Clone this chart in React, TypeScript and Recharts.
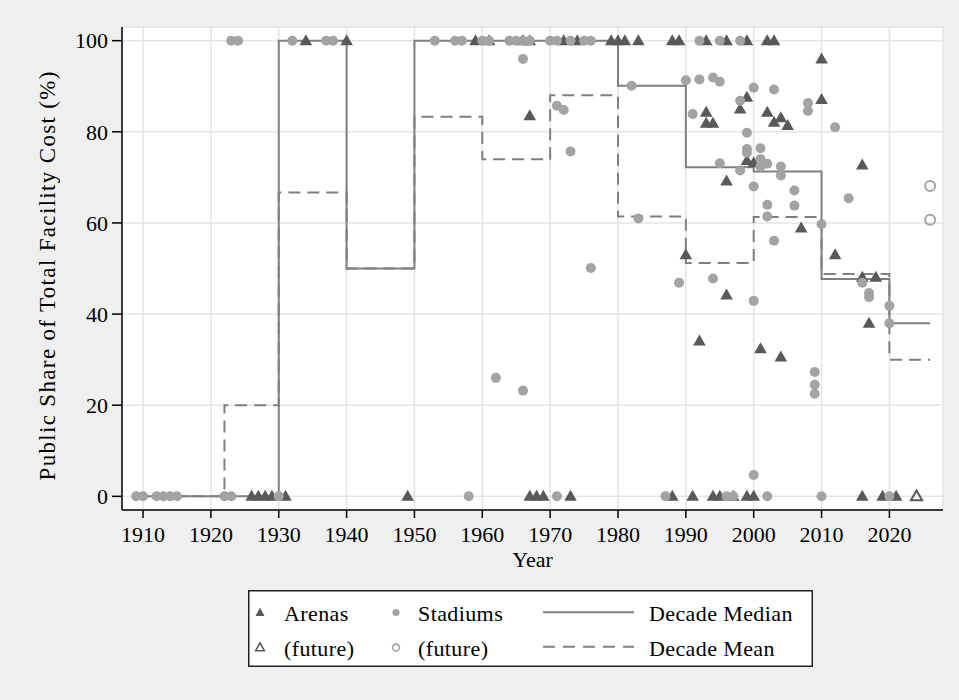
import { ComposedChart, Line, Scatter, XAxis, YAxis, CartesianGrid, Legend } from 'recharts';

const FONT = '"Liberation Serif", "Times New Roman", serif';
const BG = '#efefef';
const ARENA = '#595959';
const STADIUM = '#a3a3a3';
const STEP = '#7f7f7f';
const GRID = '#e4e4e4';

// axis ticks
const yearTicks = [1910, 1920, 1930, 1940, 1950, 1960, 1970, 1980, 1990, 2000, 2010, 2020];
const shareTicks = [0, 20, 40, 60, 80, 100];

// arenas (opening year, public share %)
const arenaYears = [
  1926, 1927, 1928, 1929, 1931, 1934, 1940, 1949, 1959, 1961,
  1966, 1967, 1967, 1967, 1968, 1969, 1972, 1973, 1974, 1979,
  1980, 1981, 1983, 1988, 1988, 1989, 1990, 1991, 1992, 1993,
  1993, 1993, 1994, 1994, 1995, 1996, 1996, 1996, 1997, 1998,
  1999, 1999, 1999, 1999, 2000, 2000, 2001, 2002, 2002, 2003,
  2003, 2004, 2004, 2005, 2007, 2010, 2010, 2012, 2016, 2016,
  2016, 2017, 2018, 2019, 2021,
];
const arenaShares = [
  0, 0, 0, 0, 0, 100, 100, 0, 100, 100,
  100, 100, 83.5, 0, 0, 0, 100, 0, 100, 100,
  100, 100, 100, 100, 0, 100, 53, 0, 34.1, 100,
  84.3, 81.9, 81.9, 0, 0, 100, 69.2, 44.2, 0, 85,
  100, 87.6, 73.7, 0, 73.2, 0, 32.4, 100, 84.3, 100,
  82.1, 83.1, 30.6, 81.4, 58.9, 96, 87.1, 53, 72.7, 48.1,
  0, 38, 48.1, 0, 0,
];

// stadiums
const stadiumYears = [
  1909, 1910, 1912, 1913, 1914, 1915, 1922, 1923, 1923, 1924,
  1930, 1932, 1937, 1938, 1953, 1956, 1957, 1958, 1960, 1961,
  1962, 1964, 1965, 1966, 1966, 1966, 1967, 1970, 1971, 1971,
  1971, 1972, 1973, 1973, 1975, 1976, 1976, 1982, 1983, 1987,
  1989, 1990, 1991, 1992, 1992, 1994, 1994, 1995, 1995, 1995,
  1996, 1997, 1998, 1998, 1998, 1999, 1999, 1999, 2000, 2000,
  2000, 2000, 2001, 2001, 2001, 2002, 2002, 2002, 2002, 2003,
  2003, 2004, 2004, 2006, 2006, 2008, 2008, 2009, 2009, 2009,
  2010, 2010, 2012, 2014, 2016, 2017, 2017, 2020, 2020, 2020,
];
const stadiumShares = [
  0, 0, 0, 0, 0, 0, 0, 0, 100, 100,
  0, 100, 100, 100, 100, 100, 100, 0, 100, 100,
  26, 100, 100, 100, 96, 23.2, 100, 100, 100, 85.7,
  0, 84.8, 100, 75.7, 100, 100, 50.1, 90.1, 61, 0,
  46.9, 91.3, 83.9, 100, 91.5, 91.9, 47.8, 100, 91, 73.1,
  0, 0, 100, 86.8, 71.5, 79.8, 76.2, 75.4, 89.7, 68,
  42.9, 4.7, 76.4, 74, 72.4, 73, 64, 61.4, 0, 89.3,
  56.1, 72.4, 70.4, 67.1, 63.8, 86.3, 84.6, 27.3, 24.5, 22.5,
  59.7, 0, 81, 65.4, 46.9, 44.6, 43.7, 41.8, 38, 0,
];

// planned facilities
const futureArenaYears = [2024];
const futureArenaShares = [0];
const futureStadiumYears = [2026, 2026];
const futureStadiumShares = [68.1, 60.7];

// decade summaries, drawn as steps
const stepYears = [1909, 1922, 1930, 1940, 1950, 1960, 1970, 1980, 1990, 2000, 2010, 2020, 2026];
const decadeMedian = [0, 0, 100, 50, 100, 100, 100, 90.1, 72.2, 71.3, 47.7, 38, 38];
const decadeMean = [0, 20, 66.7, 50, 83.3, 74, 88, 61.4, 51.2, 61.3, 48.8, 30, 30];

const toPoints = (years: number[], shares: number[]) =>
  years.map((year, i) => ({ year, share: shares[i] }));

const arenaPoints = toPoints(arenaYears, arenaShares);
const stadiumPoints = toPoints(stadiumYears, stadiumShares);
const futureArenaPoints = toPoints(futureArenaYears, futureArenaShares);
const futureStadiumPoints = toPoints(futureStadiumYears, futureStadiumShares);
const medianPoints = toPoints(stepYears, decadeMedian);
const meanPoints = toPoints(stepYears, decadeMean);

const triPath = (cx: number, cy: number, w: number, up: number, down: number) =>
  `M${cx},${cy - up}L${cx + w},${cy + down}L${cx - w},${cy + down}Z`;

const ArenaDot = (p: any) =>
  p.cx == null ? null : <path d={triPath(p.cx, p.cy, 6.3, 6.5, 4.5)} fill={ARENA} />;

const FutureArenaDot = (p: any) =>
  p.cx == null ? null : (
    <path d={triPath(p.cx, p.cy, 5.6, 5.8, 4)} fill="none" stroke={ARENA} strokeWidth={2} />
  );

const StadiumDot = (p: any) =>
  p.cx == null ? null : <circle cx={p.cx} cy={p.cy} r={5} fill={STADIUM} />;

const FutureStadiumDot = (p: any) =>
  p.cx == null ? null : (
    <circle cx={p.cx} cy={p.cy} r={5} fill="none" stroke={STADIUM} strokeWidth={2} />
  );

const YTitle = (props: any) => {
  const vb = props.viewBox || { x: 0, y: 27, width: 122, height: 483 };
  const x = vb.x + 55;
  const y = 276;
  return (
    <text
      x={x}
      y={y}
      transform={`rotate(-90 ${x} ${y})`}
      textAnchor="middle"
      fontFamily={FONT}
      fontSize={23}
      fill="#000"
      textLength={409}
      lengthAdjust="spacing"
    >
      Public Share of Total Facility Cost (%)
    </text>
  );
};

const XTitle = (props: any) => {
  const vb = props.viewBox || { x: 122, y: 510, width: 821, height: 70 };
  return (
    <text x={vb.x + vb.width / 2} y={vb.y + 57} textAnchor="middle" fontFamily={FONT} fontSize={22} fill="#000">
      Year
    </text>
  );
};

const LegendBox = () => {
  const txt = { fontFamily: FONT, fontSize: 22, fill: '#000', letterSpacing: 0.4 };
  return (
    <svg width={565} height={77} style={{ display: 'block' }}>
      <rect x={0.75} y={0.75} width={563.5} height={75.5} fill="#fff" stroke="#222" strokeWidth={1.5} />
      <path d={triPath(12, 22.5, 4.5, 4.8, 3.4)} fill={ARENA} />
      <text x={36} y={30.7} {...txt}>Arenas</text>
      <circle cx={148} cy={22.5} r={3.6} fill={STADIUM} />
      <text x={170} y={30.7} {...txt}>Stadiums</text>
      <line x1={295} x2={386} y1={22.3} y2={22.3} stroke={STEP} strokeWidth={2} />
      <text x={401} y={30.7} {...txt}>Decade Median</text>

      <path d={triPath(12, 57.5, 4.3, 4.6, 3.2)} fill="none" stroke={ARENA} strokeWidth={1.6} />
      <text x={36} y={65.7} {...txt}>(future)</text>
      <circle cx={148} cy={57.5} r={3.4} fill="none" stroke={STADIUM} strokeWidth={1.6} />
      <text x={170} y={65.7} {...txt}>(future)</text>
      <line x1={295} x2={386} y1={56.7} y2={56.7} stroke={STEP} strokeWidth={2} strokeDasharray="12 8" />
      <text x={401} y={65.7} {...txt}>Decade Mean</text>
    </svg>
  );
};

export default function App() {
  return (
    <div style={{ position: 'absolute', left: 0, top: 0, width: 959, height: 700, background: BG }}>
      <ComposedChart width={959} height={700} margin={{ top: 27, right: 16, left: 0, bottom: 120 }}>
        <CartesianGrid fill="#fff" stroke={GRID} strokeWidth={1.5} />
        <XAxis
          type="number"
          dataKey="year"
          domain={[1906.9, 2027.9]}
          allowDataOverflow
          ticks={yearTicks}
          height={70}
          tickSize={8}
          tickMargin={8}
          axisLine={{ stroke: '#000', strokeWidth: 1.5 }}
          tickLine={{ stroke: '#000', strokeWidth: 1.5 }}
          tick={{ fill: '#000', fontSize: 22, fontFamily: FONT }}
          label={{ content: XTitle }}
        />
        <YAxis
          type="number"
          dataKey="share"
          domain={[-3, 103]}
          allowDataOverflow
          ticks={shareTicks}
          width={122}
          tickSize={10}
          tickMargin={4}
          axisLine={{ stroke: '#000', strokeWidth: 1.5 }}
          tickLine={{ stroke: '#000', strokeWidth: 1.5 }}
          tick={{ fill: '#000', fontSize: 22, fontFamily: FONT }}
          label={{ content: YTitle }}
        />
        <Line
          data={meanPoints}
          dataKey="share"
          type="stepAfter"
          stroke={STEP}
          strokeWidth={2}
          strokeDasharray="12 7"
          dot={false}
          activeDot={false}
          legendType="none"
          isAnimationActive={false}
        />
        <Line
          data={medianPoints}
          dataKey="share"
          type="stepAfter"
          stroke={STEP}
          strokeWidth={2}
          dot={false}
          activeDot={false}
          legendType="none"
          isAnimationActive={false}
        />
        <Scatter data={arenaPoints} dataKey="share" shape={ArenaDot} isAnimationActive={false} />
        <Scatter data={futureArenaPoints} dataKey="share" shape={FutureArenaDot} isAnimationActive={false} />
        <Scatter data={stadiumPoints} dataKey="share" shape={StadiumDot} isAnimationActive={false} />
        <Scatter data={futureStadiumPoints} dataKey="share" shape={FutureStadiumDot} isAnimationActive={false} />
        <Legend
          layout="horizontal"
          verticalAlign="middle"
          align="center"
          wrapperStyle={{ left: 248, top: 590, width: 565, height: 77 }}
          content={LegendBox}
        />
      </ComposedChart>
    </div>
  );
}
